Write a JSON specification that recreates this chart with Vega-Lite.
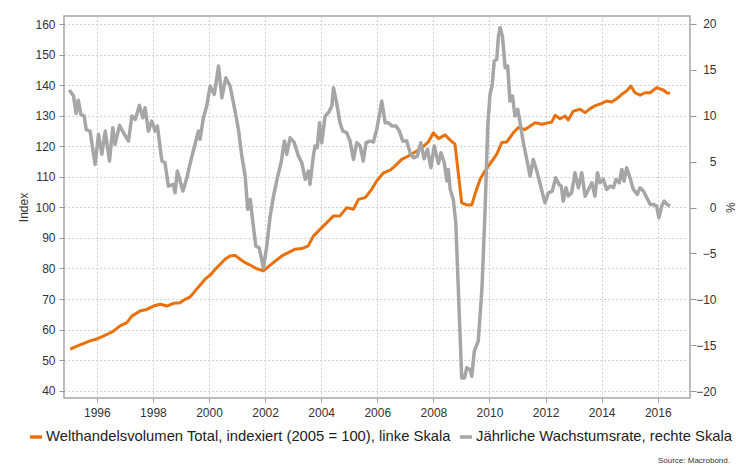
{
  "$schema": "https://vega.github.io/schema/vega-lite/v6.json",
  "width": 626,
  "height": 382,
  "autosize": "none",
  "padding": {"left": 64, "top": 16, "right": 46, "bottom": 76},
  "background": "white",
  "config": {
    "font": "Liberation Sans",
    "view": {"stroke": "#a6a6a6", "strokeWidth": 1.5},
    "axis": {
      "labelFont": "Liberation Sans",
      "labelFontSize": 12,
      "labelColor": "#333333",
      "titleFont": "Liberation Sans",
      "titleFontSize": 12,
      "titleFontWeight": "normal",
      "titleColor": "#333333",
      "tickColor": "#999999",
      "domain": false,
      "gridColor": "#c4c4c4",
      "gridDash": [1.5, 2.5],
      "gridWidth": 1
    }
  },
  "title": {
    "text": "Source: Macrobond.",
    "orient": "bottom",
    "anchor": "end",
    "frame": "group",
    "fontSize": 8,
    "fontWeight": "normal",
    "color": "#333333",
    "dx": 40,
    "offset": 13
  },
  "data": {
    "values": [
      {"s": "W", "t": 1995.05, "v": 53.6},
      {"s": "W", "t": 1995.4, "v": 55.0},
      {"s": "W", "t": 1995.76, "v": 56.3},
      {"s": "W", "t": 1996.0, "v": 56.9},
      {"s": "W", "t": 1996.36, "v": 58.4},
      {"s": "W", "t": 1996.59, "v": 59.5},
      {"s": "W", "t": 1996.83, "v": 61.2},
      {"s": "W", "t": 1997.07, "v": 62.3},
      {"s": "W", "t": 1997.25, "v": 64.4},
      {"s": "W", "t": 1997.54, "v": 66.1},
      {"s": "W", "t": 1997.78, "v": 66.6},
      {"s": "W", "t": 1998.02, "v": 67.7},
      {"s": "W", "t": 1998.26, "v": 68.3},
      {"s": "W", "t": 1998.5, "v": 67.7},
      {"s": "W", "t": 1998.73, "v": 68.6},
      {"s": "W", "t": 1998.97, "v": 68.8},
      {"s": "W", "t": 1999.15, "v": 69.9},
      {"s": "W", "t": 1999.33, "v": 70.7},
      {"s": "W", "t": 1999.5, "v": 72.6},
      {"s": "W", "t": 1999.86, "v": 76.5},
      {"s": "W", "t": 2000.04, "v": 77.8},
      {"s": "W", "t": 2000.22, "v": 79.7},
      {"s": "W", "t": 2000.4, "v": 81.4},
      {"s": "W", "t": 2000.57, "v": 83.0},
      {"s": "W", "t": 2000.75, "v": 84.1},
      {"s": "W", "t": 2000.93, "v": 84.3},
      {"s": "W", "t": 2001.11, "v": 83.0},
      {"s": "W", "t": 2001.29, "v": 81.9},
      {"s": "W", "t": 2001.53, "v": 80.8},
      {"s": "W", "t": 2001.7, "v": 79.9},
      {"s": "W", "t": 2001.94, "v": 79.2},
      {"s": "W", "t": 2002.12, "v": 80.6},
      {"s": "W", "t": 2002.36, "v": 82.4},
      {"s": "W", "t": 2002.6, "v": 84.1},
      {"s": "W", "t": 2002.83, "v": 85.2},
      {"s": "W", "t": 2003.07, "v": 86.3},
      {"s": "W", "t": 2003.31, "v": 86.5},
      {"s": "W", "t": 2003.54, "v": 87.4},
      {"s": "W", "t": 2003.72, "v": 90.6},
      {"s": "W", "t": 2003.96, "v": 92.8},
      {"s": "W", "t": 2004.2, "v": 95.0},
      {"s": "W", "t": 2004.44, "v": 97.2},
      {"s": "W", "t": 2004.67, "v": 97.2},
      {"s": "W", "t": 2004.91, "v": 99.9},
      {"s": "W", "t": 2005.15, "v": 99.4},
      {"s": "W", "t": 2005.33, "v": 102.6},
      {"s": "W", "t": 2005.57, "v": 103.2},
      {"s": "W", "t": 2005.8, "v": 105.9},
      {"s": "W", "t": 2005.98, "v": 108.6},
      {"s": "W", "t": 2006.22, "v": 111.3},
      {"s": "W", "t": 2006.46, "v": 112.2},
      {"s": "W", "t": 2006.63, "v": 113.5},
      {"s": "W", "t": 2006.87, "v": 115.7},
      {"s": "W", "t": 2007.11, "v": 116.8},
      {"s": "W", "t": 2007.35, "v": 118.1},
      {"s": "W", "t": 2007.59, "v": 119.5},
      {"s": "W", "t": 2007.82, "v": 121.4},
      {"s": "W", "t": 2008.0, "v": 124.4},
      {"s": "W", "t": 2008.18, "v": 122.5},
      {"s": "W", "t": 2008.42, "v": 123.7},
      {"s": "W", "t": 2008.6, "v": 122.0},
      {"s": "W", "t": 2008.77, "v": 120.7},
      {"s": "W", "t": 2009.01, "v": 101.5},
      {"s": "W", "t": 2009.19, "v": 100.8},
      {"s": "W", "t": 2009.37, "v": 100.8},
      {"s": "W", "t": 2009.5, "v": 104.8},
      {"s": "W", "t": 2009.67, "v": 109.3},
      {"s": "W", "t": 2009.84, "v": 111.9},
      {"s": "W", "t": 2010.02, "v": 114.2},
      {"s": "W", "t": 2010.26, "v": 117.4},
      {"s": "W", "t": 2010.44, "v": 121.2},
      {"s": "W", "t": 2010.62, "v": 121.4},
      {"s": "W", "t": 2010.85, "v": 124.4},
      {"s": "W", "t": 2011.03, "v": 126.1},
      {"s": "W", "t": 2011.27, "v": 125.5},
      {"s": "W", "t": 2011.63, "v": 127.7},
      {"s": "W", "t": 2011.86, "v": 127.2},
      {"s": "W", "t": 2012.22, "v": 127.9},
      {"s": "W", "t": 2012.34, "v": 130.1},
      {"s": "W", "t": 2012.52, "v": 129.0},
      {"s": "W", "t": 2012.7, "v": 129.9},
      {"s": "W", "t": 2012.81, "v": 128.6},
      {"s": "W", "t": 2012.99, "v": 131.5},
      {"s": "W", "t": 2013.23, "v": 132.1},
      {"s": "W", "t": 2013.41, "v": 131.0},
      {"s": "W", "t": 2013.59, "v": 132.3},
      {"s": "W", "t": 2013.76, "v": 133.2},
      {"s": "W", "t": 2014.0, "v": 134.0},
      {"s": "W", "t": 2014.18, "v": 134.8},
      {"s": "W", "t": 2014.36, "v": 134.5},
      {"s": "W", "t": 2014.54, "v": 135.6},
      {"s": "W", "t": 2014.72, "v": 137.0},
      {"s": "W", "t": 2014.89, "v": 138.1},
      {"s": "W", "t": 2015.04, "v": 139.7},
      {"s": "W", "t": 2015.19, "v": 137.5},
      {"s": "W", "t": 2015.37, "v": 136.7},
      {"s": "W", "t": 2015.55, "v": 137.5},
      {"s": "W", "t": 2015.73, "v": 137.5},
      {"s": "W", "t": 2015.96, "v": 139.2},
      {"s": "W", "t": 2016.08, "v": 138.8},
      {"s": "W", "t": 2016.2, "v": 138.4},
      {"s": "W", "t": 2016.32, "v": 137.5},
      {"s": "W", "t": 2016.44, "v": 137.3},
      {"s": "J", "t": 1995.02, "v": 12.8},
      {"s": "J", "t": 1995.17, "v": 12.15},
      {"s": "J", "t": 1995.26, "v": 10.26},
      {"s": "J", "t": 1995.34, "v": 11.7},
      {"s": "J", "t": 1995.43, "v": 10.15},
      {"s": "J", "t": 1995.55, "v": 9.97},
      {"s": "J", "t": 1995.62, "v": 8.5},
      {"s": "J", "t": 1995.76, "v": 8.33},
      {"s": "J", "t": 1995.94, "v": 4.7},
      {"s": "J", "t": 1996.06, "v": 7.97},
      {"s": "J", "t": 1996.18, "v": 5.8},
      {"s": "J", "t": 1996.3, "v": 8.33},
      {"s": "J", "t": 1996.45, "v": 5.06},
      {"s": "J", "t": 1996.57, "v": 8.7},
      {"s": "J", "t": 1996.65, "v": 6.88},
      {"s": "J", "t": 1996.81, "v": 8.95},
      {"s": "J", "t": 1996.95, "v": 8.15},
      {"s": "J", "t": 1997.13, "v": 7.24},
      {"s": "J", "t": 1997.25, "v": 9.97},
      {"s": "J", "t": 1997.37, "v": 9.6},
      {"s": "J", "t": 1997.52, "v": 11.13},
      {"s": "J", "t": 1997.64, "v": 9.78},
      {"s": "J", "t": 1997.72, "v": 10.87},
      {"s": "J", "t": 1997.84, "v": 8.33},
      {"s": "J", "t": 1997.96, "v": 9.42},
      {"s": "J", "t": 1998.08, "v": 8.33},
      {"s": "J", "t": 1998.16, "v": 8.88},
      {"s": "J", "t": 1998.32, "v": 5.06},
      {"s": "J", "t": 1998.43, "v": 4.88},
      {"s": "J", "t": 1998.55, "v": 2.33},
      {"s": "J", "t": 1998.73, "v": 2.52},
      {"s": "J", "t": 1998.79, "v": 1.6},
      {"s": "J", "t": 1998.87, "v": 3.97},
      {"s": "J", "t": 1999.07, "v": 1.79},
      {"s": "J", "t": 1999.21, "v": 3.24},
      {"s": "J", "t": 1999.39, "v": 5.6},
      {"s": "J", "t": 1999.5, "v": 6.88},
      {"s": "J", "t": 1999.62, "v": 8.33},
      {"s": "J", "t": 1999.68, "v": 7.43},
      {"s": "J", "t": 1999.8, "v": 9.78},
      {"s": "J", "t": 1999.92, "v": 11.06},
      {"s": "J", "t": 2000.04, "v": 13.24},
      {"s": "J", "t": 2000.19, "v": 12.33},
      {"s": "J", "t": 2000.34, "v": 15.42},
      {"s": "J", "t": 2000.46, "v": 11.96},
      {"s": "J", "t": 2000.6, "v": 14.14},
      {"s": "J", "t": 2000.75, "v": 13.24},
      {"s": "J", "t": 2000.93, "v": 10.51},
      {"s": "J", "t": 2001.05, "v": 8.5},
      {"s": "J", "t": 2001.17, "v": 5.6},
      {"s": "J", "t": 2001.29, "v": 3.42},
      {"s": "J", "t": 2001.38, "v": -0.2},
      {"s": "J", "t": 2001.47, "v": 0.88},
      {"s": "J", "t": 2001.58, "v": -2.03},
      {"s": "J", "t": 2001.67, "v": -4.21},
      {"s": "J", "t": 2001.79, "v": -4.39},
      {"s": "J", "t": 2001.94, "v": -6.58},
      {"s": "J", "t": 2002.06, "v": -4.21},
      {"s": "J", "t": 2002.18, "v": -0.94},
      {"s": "J", "t": 2002.3, "v": 1.24},
      {"s": "J", "t": 2002.45, "v": 3.42},
      {"s": "J", "t": 2002.57, "v": 4.88},
      {"s": "J", "t": 2002.69, "v": 7.24},
      {"s": "J", "t": 2002.77, "v": 5.8},
      {"s": "J", "t": 2002.89, "v": 7.6},
      {"s": "J", "t": 2003.04, "v": 7.06},
      {"s": "J", "t": 2003.19, "v": 5.6},
      {"s": "J", "t": 2003.31, "v": 4.88},
      {"s": "J", "t": 2003.43, "v": 3.06},
      {"s": "J", "t": 2003.54, "v": 3.97},
      {"s": "J", "t": 2003.6, "v": 2.52},
      {"s": "J", "t": 2003.72, "v": 5.6},
      {"s": "J", "t": 2003.78, "v": 6.7},
      {"s": "J", "t": 2003.86, "v": 6.51},
      {"s": "J", "t": 2003.94, "v": 9.24},
      {"s": "J", "t": 2004.02, "v": 7.06},
      {"s": "J", "t": 2004.14, "v": 9.97},
      {"s": "J", "t": 2004.26, "v": 10.33},
      {"s": "J", "t": 2004.38, "v": 11.06},
      {"s": "J", "t": 2004.44, "v": 13.05},
      {"s": "J", "t": 2004.56, "v": 11.24},
      {"s": "J", "t": 2004.67, "v": 9.24},
      {"s": "J", "t": 2004.77, "v": 8.33},
      {"s": "J", "t": 2004.91, "v": 8.15},
      {"s": "J", "t": 2005.03, "v": 7.24},
      {"s": "J", "t": 2005.15, "v": 5.24},
      {"s": "J", "t": 2005.27, "v": 7.06},
      {"s": "J", "t": 2005.39, "v": 6.7},
      {"s": "J", "t": 2005.5, "v": 5.06},
      {"s": "J", "t": 2005.6, "v": 7.06},
      {"s": "J", "t": 2005.74, "v": 7.24},
      {"s": "J", "t": 2005.86, "v": 7.13},
      {"s": "J", "t": 2005.98, "v": 8.52},
      {"s": "J", "t": 2006.07, "v": 9.97},
      {"s": "J", "t": 2006.16, "v": 11.6},
      {"s": "J", "t": 2006.28, "v": 9.24},
      {"s": "J", "t": 2006.4, "v": 9.24},
      {"s": "J", "t": 2006.52, "v": 8.88},
      {"s": "J", "t": 2006.67, "v": 8.88},
      {"s": "J", "t": 2006.79, "v": 8.33},
      {"s": "J", "t": 2006.91, "v": 7.24},
      {"s": "J", "t": 2007.05, "v": 7.24},
      {"s": "J", "t": 2007.17, "v": 5.97},
      {"s": "J", "t": 2007.29, "v": 5.42},
      {"s": "J", "t": 2007.43, "v": 5.6},
      {"s": "J", "t": 2007.55, "v": 7.06},
      {"s": "J", "t": 2007.67, "v": 5.31},
      {"s": "J", "t": 2007.79, "v": 6.33},
      {"s": "J", "t": 2007.91, "v": 4.33},
      {"s": "J", "t": 2008.03, "v": 6.7},
      {"s": "J", "t": 2008.18, "v": 4.8},
      {"s": "J", "t": 2008.27, "v": 5.97},
      {"s": "J", "t": 2008.39, "v": 4.88},
      {"s": "J", "t": 2008.48, "v": 2.88},
      {"s": "J", "t": 2008.53, "v": 4.15},
      {"s": "J", "t": 2008.6, "v": 1.97},
      {"s": "J", "t": 2008.71, "v": 0.88},
      {"s": "J", "t": 2008.8, "v": -1.67},
      {"s": "J", "t": 2008.89, "v": -8.93},
      {"s": "J", "t": 2009.01, "v": -18.57},
      {"s": "J", "t": 2009.11, "v": -18.57},
      {"s": "J", "t": 2009.19, "v": -17.48},
      {"s": "J", "t": 2009.31, "v": -17.66},
      {"s": "J", "t": 2009.37, "v": -18.39},
      {"s": "J", "t": 2009.46, "v": -15.66},
      {"s": "J", "t": 2009.6, "v": -14.57},
      {"s": "J", "t": 2009.73, "v": -8.93},
      {"s": "J", "t": 2009.84, "v": -0.58},
      {"s": "J", "t": 2009.94, "v": 8.88},
      {"s": "J", "t": 2010.02, "v": 12.33},
      {"s": "J", "t": 2010.1, "v": 13.42},
      {"s": "J", "t": 2010.17, "v": 15.97},
      {"s": "J", "t": 2010.26, "v": 16.15},
      {"s": "J", "t": 2010.32, "v": 18.69},
      {"s": "J", "t": 2010.38, "v": 19.6},
      {"s": "J", "t": 2010.46, "v": 18.69},
      {"s": "J", "t": 2010.56, "v": 15.24},
      {"s": "J", "t": 2010.65, "v": 15.42},
      {"s": "J", "t": 2010.73, "v": 11.6},
      {"s": "J", "t": 2010.82, "v": 12.15},
      {"s": "J", "t": 2010.91, "v": 9.97},
      {"s": "J", "t": 2011.01, "v": 10.7},
      {"s": "J", "t": 2011.09, "v": 9.24},
      {"s": "J", "t": 2011.21, "v": 7.06},
      {"s": "J", "t": 2011.33, "v": 5.24},
      {"s": "J", "t": 2011.45, "v": 3.42},
      {"s": "J", "t": 2011.56, "v": 5.24},
      {"s": "J", "t": 2011.69, "v": 3.97},
      {"s": "J", "t": 2011.84, "v": 2.15},
      {"s": "J", "t": 2011.98, "v": 0.51},
      {"s": "J", "t": 2012.1, "v": 1.6},
      {"s": "J", "t": 2012.24, "v": 1.79},
      {"s": "J", "t": 2012.36, "v": 3.24},
      {"s": "J", "t": 2012.48, "v": 2.52},
      {"s": "J", "t": 2012.56, "v": 2.33},
      {"s": "J", "t": 2012.63, "v": 0.7},
      {"s": "J", "t": 2012.73, "v": 2.15},
      {"s": "J", "t": 2012.81, "v": 1.24},
      {"s": "J", "t": 2012.93, "v": 1.6},
      {"s": "J", "t": 2013.05, "v": 3.79},
      {"s": "J", "t": 2013.17, "v": 2.15},
      {"s": "J", "t": 2013.29, "v": 3.79},
      {"s": "J", "t": 2013.41, "v": 1.24},
      {"s": "J", "t": 2013.53, "v": 1.97},
      {"s": "J", "t": 2013.65, "v": 2.7},
      {"s": "J", "t": 2013.76, "v": 1.24},
      {"s": "J", "t": 2013.85, "v": 3.79},
      {"s": "J", "t": 2013.94, "v": 2.7},
      {"s": "J", "t": 2014.06, "v": 3.06},
      {"s": "J", "t": 2014.18, "v": 1.97},
      {"s": "J", "t": 2014.3, "v": 2.33},
      {"s": "J", "t": 2014.42, "v": 2.15},
      {"s": "J", "t": 2014.51, "v": 3.06},
      {"s": "J", "t": 2014.63, "v": 2.7},
      {"s": "J", "t": 2014.72, "v": 4.15},
      {"s": "J", "t": 2014.8, "v": 2.88},
      {"s": "J", "t": 2014.89, "v": 4.33},
      {"s": "J", "t": 2015.01, "v": 3.24},
      {"s": "J", "t": 2015.13, "v": 1.97},
      {"s": "J", "t": 2015.27, "v": 1.43},
      {"s": "J", "t": 2015.37, "v": 2.15},
      {"s": "J", "t": 2015.49, "v": 1.79},
      {"s": "J", "t": 2015.61, "v": 1.06},
      {"s": "J", "t": 2015.73, "v": 0.34},
      {"s": "J", "t": 2015.84, "v": 0.34},
      {"s": "J", "t": 2015.96, "v": 0.15},
      {"s": "J", "t": 2016.04, "v": -1.12},
      {"s": "J", "t": 2016.14, "v": 0.15},
      {"s": "J", "t": 2016.23, "v": 0.7},
      {"s": "J", "t": 2016.33, "v": 0.34},
      {"s": "J", "t": 2016.44, "v": 0.15}
    ]
  },
  "encoding": {
    "x": {
      "field": "t",
      "type": "quantitative",
      "scale": {"domain": [1994.83, 2017.15], "nice": false, "zero": false},
      "axis": {
        "title": null,
        "values": [1996, 1998, 2000, 2002, 2004, 2006, 2008, 2010, 2012, 2014, 2016],
        "format": "d",
        "grid": true,
        "tickSize": 4,
        "labelPadding": 5
      }
    },
    "color": {
      "field": "s",
      "type": "nominal",
      "scale": {"domain": ["W", "J"], "range": ["#e8710c", "#a6a6a6"]},
      "legend": {
        "orient": "none",
        "legendX": -36,
        "legendY": 413,
        "direction": "horizontal",
        "title": null,
        "symbolType": "stroke",
        "symbolSize": 144,
        "symbolStrokeWidth": 3.5,
        "labelFont": "Liberation Sans",
        "labelFontSize": 14.8,
        "labelColor": "#222222",
        "labelOffset": 2,
        "columnPadding": 2,
        "labelLimit": 500,
        "labelExpr": "datum.label == 'W' ? 'Welthandelsvolumen Total, indexiert (2005 = 100), linke Skala' : 'Jährliche Wachstumsrate, rechte Skala'"
      }
    }
  },
  "layer": [
    {
      "transform": [{"filter": "datum.s == 'W'"}],
      "mark": {"type": "line", "strokeWidth": 3, "strokeJoin": "round"},
      "encoding": {
        "y": {
          "field": "v",
          "type": "quantitative",
          "scale": {"domain": [37.61, 162.62], "nice": false, "zero": false},
          "axis": {
            "orient": "left",
            "title": "Index",
            "values": [40, 50, 60, 70, 80, 90, 100, 110, 120, 130, 140, 150, 160],
            "grid": true,
            "tickSize": 5,
            "labelPadding": 4,
            "titlePadding": 4
          }
        }
      }
    },
    {
      "transform": [{"filter": "datum.s == 'J'"}],
      "mark": {"type": "line", "strokeWidth": 3.5, "strokeJoin": "round"},
      "encoding": {
        "y": {
          "field": "v",
          "type": "quantitative",
          "scale": {"domain": [-20.76, 20.87], "nice": false, "zero": false},
          "axis": {
            "orient": "right",
            "title": "%",
            "values": [-20, -15, -10, -5, 0, 5, 10, 15, 20],
            "grid": false,
            "tickSize": 6,
            "labelAlign": "right",
            "labelPadding": 20,
            "titlePadding": 6
          }
        }
      }
    }
  ],
  "resolve": {"scale": {"y": "independent"}}
}
